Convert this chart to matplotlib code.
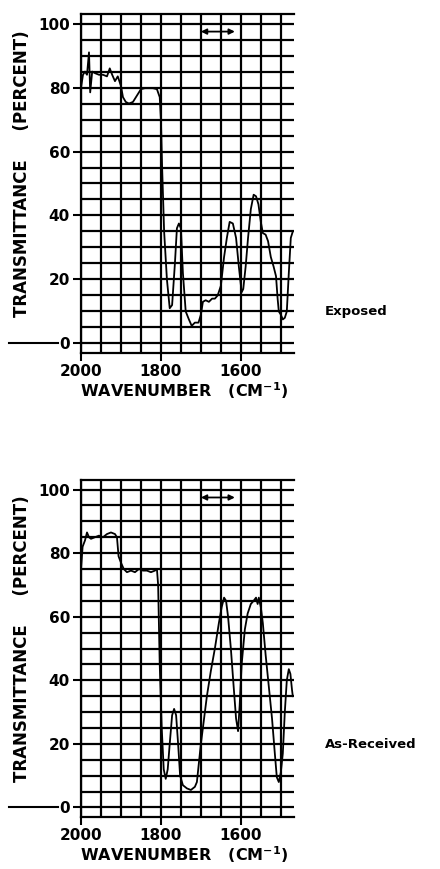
import matplotlib
matplotlib.use('Agg')
from matplotlib import pyplot as plt
from matplotlib.ticker import MultipleLocator

# spectrum
wnExposed = [2000, 1995, 1990, 1985, 1980, 1977, 1972, 1965, 1955, 1945, 1935, 1928, 1922, 1915,
             1908, 1900, 1895, 1888, 1880, 1870, 1860, 1850, 1840, 1820, 1810, 1803, 1800, 1797,
             1792, 1785, 1778, 1772, 1765, 1760, 1755, 1750, 1745, 1738, 1730, 1723, 1715, 1706,
             1700, 1695, 1688, 1680, 1672, 1665, 1658, 1650, 1642, 1635, 1628, 1620, 1612, 1605,
             1598, 1594, 1588, 1582, 1575, 1568, 1562, 1556, 1550, 1545, 1538, 1532, 1525, 1518,
             1512, 1508, 1505, 1500, 1495, 1490, 1485, 1480, 1475, 1470]
tExposed = [80, 84, 85, 84, 91, 78.5, 85, 84.5, 84, 84, 83.5, 86, 84, 82,
            83.5, 80.5, 77, 75.5, 75, 75.5, 77.5, 79.5, 79.8, 79.8, 79.5, 77, 70, 55,
            35, 20, 11, 12, 25, 36, 37.5, 36, 22, 10, 7.5, 5.5, 6.5, 6.5,
            9, 13, 13.5, 13, 14, 14, 15, 18, 27, 33, 38, 37.5, 33, 24,
            16, 17, 24, 33, 42, 46.5, 46, 43.5, 38, 34.5, 34, 32, 27, 24,
            21, 14, 10, 9, 7.5, 8, 10, 22, 33, 35]

wnReceived = [2000, 1996, 1990, 1985, 1980, 1975, 1965, 1955, 1945, 1935, 1925, 1915, 1910, 1906,
              1900, 1893, 1885, 1875, 1865, 1855, 1845, 1835, 1825, 1815, 1810, 1807, 1803, 1798,
              1793, 1788, 1783, 1778, 1772, 1767, 1762, 1757, 1752, 1745, 1735, 1725, 1715, 1710,
              1705, 1700, 1692, 1685, 1675, 1665, 1655, 1648, 1642, 1637, 1632, 1625, 1618, 1612,
              1607, 1603, 1598, 1590, 1583, 1575, 1568, 1562, 1558, 1555, 1550, 1545, 1538, 1530,
              1522, 1515, 1510, 1505, 1500, 1495, 1490, 1485, 1480, 1476, 1472, 1470]
tReceived = [75, 82, 84, 86.5, 85, 84.5, 85, 85.5, 85, 86, 86.5, 86, 85, 79,
             77, 75, 74, 74.5, 74, 75, 74.5, 74.5, 74, 74.5, 75, 70, 45, 25,
             12, 9, 12, 20, 29, 31, 29, 20, 10, 7, 6, 5.5, 6.5, 8,
             14, 20, 28, 35, 43, 50, 58, 63, 66, 65, 60, 50, 38, 28,
             24, 32, 45, 56, 61, 64, 65, 66, 64, 66, 63, 58, 48, 38,
             28, 17, 9.5, 8, 11, 17, 30, 40, 43.5, 42, 37, 35]

xTicks = [2000, 1800, 1600]
yTicks = [0, 20, 40, 60, 80, 100]
arrowSpan = (1700, 1615)

fig = plt.figure(figsize=(4.4, 8.69), dpi=100)
font = dict(family='DejaVu Sans', weight='bold')


def draw_panel(rect, wn, t, name, nameY):
    ax = fig.add_axes(rect)
    ax.plot(wn, t, color='black', lw=1.3)
    ax.set_xlim(2000, 1467)
    ax.set_ylim(-3, 103)
    ax.set_xticks(xTicks)
    ax.set_yticks(yTicks)
    ax.xaxis.set_minor_locator(MultipleLocator(50))
    ax.yaxis.set_minor_locator(MultipleLocator(5))
    ax.grid(which='both', color='black', lw=1.6)
    ax.tick_params(which='minor', length=0)
    ax.tick_params(which='major', length=6, width=1.5, pad=2, labelsize=11)
    for lbl in ax.get_xticklabels() + ax.get_yticklabels():
        lbl.set_fontweight('bold')
    for side in ['left', 'top', 'bottom']:
        ax.spines[side].set_linewidth(1.6)
    ax.spines['right'].set_visible(False)
    # little leader line left of the zero label
    ax.plot([-0.34, -0.11], [0, 0], color='black', lw=1.5,
            transform=ax.get_yaxis_transform(), clip_on=False)
    ax.annotate('', xy=(arrowSpan[1], 97.5), xytext=(arrowSpan[0], 97.5),
                arrowprops=dict(arrowstyle='<|-|>', color='black', lw=1.3,
                                mutation_scale=8, shrinkA=0, shrinkB=0))
    bottom = rect[1]
    fig.text(0.05, bottom + rect[3] * 0.53, 'TRANSMITTANCE     (PERCENT)',
             rotation=90, ha='center', va='center', fontsize=12, **font)
    fig.text(80 / 440, bottom - 38 / 869, 'WAVENUMBER   (CM$^{\\mathbf{-1}}$)',
             ha='left', va='center', fontsize=11.5, **font)
    fig.text(325 / 440, 1 - nameY / 869, name, ha='left', va='center',
             fontsize=9.5, **font)
    return ax


draw_panel([81 / 440, 516 / 869, 213 / 440, 339 / 869], wnExposed, tExposed, 'Exposed', 311)
draw_panel([81 / 440, 52 / 869, 213 / 440, 337 / 869], wnReceived, tReceived, 'As-Received', 745)

fig.savefig('out.png', dpi=100)
